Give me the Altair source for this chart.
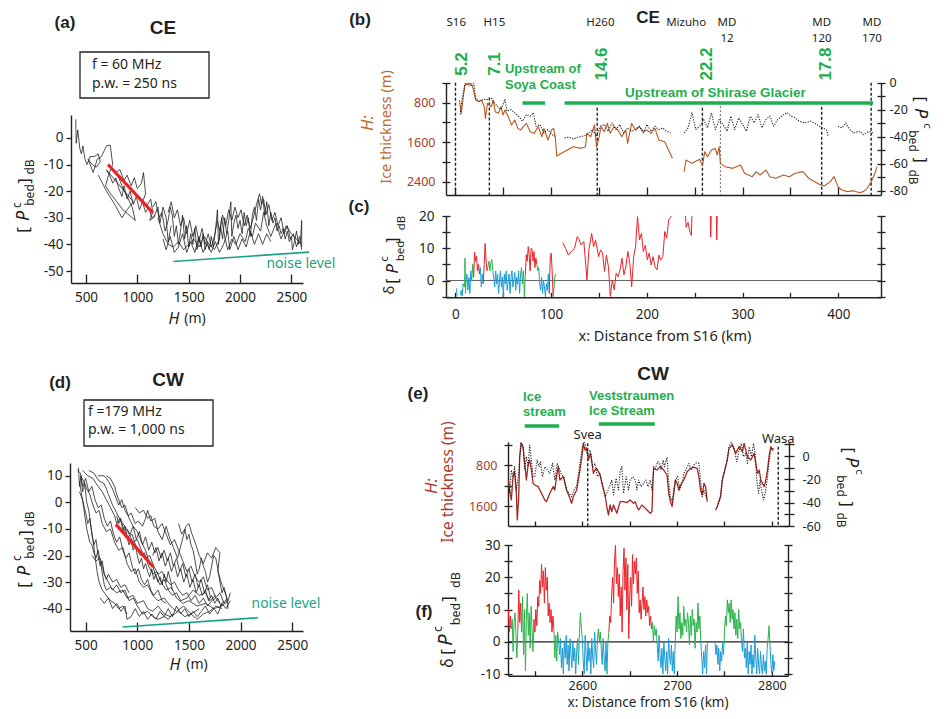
import altair as alt
import pandas as pd

W, HT, M = 928, 703, 8
INK = "#231f20"
FONT = "Noto Sans"
BFONT = "Liberation Sans"
RED = "#ec2227"
GREEN = "#2bb34a"
BLUE = "#1b9cd8"
LGREEN = "#1fae4f"
TEAL = "#17a385"
BROWN = "#b55a24"
BROWN_T = "#c0692f"
BROWN_L = "#a83c30"
DRED = "#a3271f"

# ---------------- (a) CE : P_bed vs H ----------------
A_T1 = [(400, 7), (405, -2), (420, 3), (440, -4), (455, -6), (470, -3), (490, -8), (510, -10),
        (540, -7), (580, -7), (620, -6), (640, -9), (600, -11), (560, -10), (520, -8), (570, -13),
        (610, -8), (650, -7), (700, -3), (736, -2.7), (760, -10), (720, -14), (690, -18), (740, -21),
        (800, -24), (860, -27), (920, -29), (980, -31), (950, -26), (900, -22), (860, -19), (820, -15),
        (780, -13), (830, -12), (870, -16), (900, -14), (940, -18), (970, -15), (1000, -19), (1040, -17),
        (1060, -13), (1080, -21), (1050, -24), (1100, -25), (1130, -23), (1150, -28), (1120, -31),
        (1160, -30), (1200, -26), (1220, -32), (1250, -26), (1280, -30), (1300, -39), (1330, -33)]
A_T2 = [(1150, -26), (1180, -24), (1210, -30), (1240, -28), (1270, -35), (1300, -31), (1320, -26),
        (1340, -29), (1360, -37), (1380, -33), (1400, -40), (1420, -35), (1440, -29), (1460, -38),
        (1480, -33), (1500, -41), (1520, -36), (1540, -40), (1560, -34), (1580, -42), (1600, -38),
        (1620, -41), (1640, -36), (1660, -42), (1680, -39), (1700, -42), (1720, -37), (1740, -41),
        (1760, -35), (1780, -27), (1790, -40), (1810, -33), (1830, -38), (1850, -30), (1870, -36),
        (1890, -31), (1910, -24), (1920, -37), (1940, -32), (1960, -29), (1980, -34), (2000, -31),
        (2020, -36), (2040, -28), (2060, -33), (2080, -30), (2100, -37), (2120, -29), (2140, -26),
        (2160, -31), (2180, -23), (2200, -27), (2220, -22), (2240, -29), (2260, -24), (2280, -33),
        (2300, -28), (2320, -32), (2340, -30), (2360, -35), (2380, -33), (2400, -36), (2420, -34),
        (2440, -38), (2460, -35), (2480, -39), (2500, -37), (2510, -42), (2530, -39), (2550, -35),
        (2570, -40), (2590, -38), (2600, -31), (2600, -41)]
A_T3 = [(1200, -30), (1250, -36), (1300, -40), (1350, -41), (1400, -39), (1450, -42), (1500, -40),
        (1550, -38), (1600, -41), (1650, -37), (1700, -40), (1750, -42), (1800, -38), (1820, -30),
        (1850, -37), (1880, -42), (1920, -38), (1960, -40), (2000, -36), (2050, -39), (2080, -34),
        (2120, -37), (2150, -32), (2200, -35), (2230, -28), (2260, -33), (2300, -37), (2350, -32),
        (2400, -38), (2450, -33), (2500, -36), (2550, -38), (2600, -40)]
A_T4 = [(620, -14), (700, -20), (780, -25), (850, -30), (900, -27), (960, -24), (700, -12), (730, -14),
        (760, -17), (790, -15), (820, -19), (850, -22), (870, -18), (900, -23), (930, -20), (960, -25),
        (990, -22), (1020, -27), (1050, -24), (1080, -28), (1110, -26), (1140, -30), (1170, -29)]
A_T5 = [(1300, -28), (1330, -24), (1360, -30), (1390, -27), (1420, -33), (1450, -30), (1480, -36),
        (1510, -31), (1540, -37), (1570, -33), (1600, -39), (1630, -34), (1660, -40), (1690, -36),
        (1720, -41), (1750, -37), (1780, -31), (1800, -35), (1830, -29), (1860, -33), (1890, -27),
        (1920, -31), (1950, -26), (1980, -30), (2010, -27), (2040, -33), (2070, -29), (2100, -34),
        (2130, -30), (2160, -25), (2190, -21), (2210, -25), (2230, -23), (2250, -29), (2280, -25),
        (2310, -31), (2340, -28), (2370, -33), (2400, -30), (2430, -36), (2460, -33), (2490, -38),
        (2520, -36), (2550, -41), (2580, -37), (2600, -42)]
A_T6 = [(1250, -38), (1280, -42), (1320, -37), (1360, -43), (1400, -41), (1440, -36), (1480, -43),
        (1520, -39), (1560, -43), (1600, -37), (1640, -43), (1680, -40), (1720, -43), (1760, -39),
        (1800, -43), (1840, -40), (1880, -35), (1900, -42), (1940, -37), (1980, -42), (2020, -38),
        (2060, -41), (2100, -35), (2140, -40), (2180, -36), (2220, -40), (2260, -36), (2300, -39)]
A_FIT = [(714, -10.0), (1150, -28.1)]
A_NOISE = [(1351, -46.4), (2672, -42.9)]

# ---------------- (d) CW : P_bed vs H ----------------
D_T1 = [(430, 13), (440, 6), (455, 10), (470, 4), (490, 7), (510, 0), (530, -3), (550, -9), (570, -14),
        (590, -20), (610, -26), (630, -30), (660, -33), (700, -35), (740, -37), (780, -38), (820, -40),
        (860, -39), (900, -42)]
D_T2 = [(450, 10), (480, 8), (510, 5), (540, 3), (570, -1), (600, -4), (630, -3), (660, -8), (700, -11),
        (740, -10), (780, -15), (820, -18), (860, -17), (900, -23), (940, -26), (980, -25), (1020, -30),
        (1060, -32), (1100, -31), (1150, -35), (1200, -37), (1260, -36), (1320, -39), (1380, -41),
        (1450, -39), (1520, -42), (1600, -40)]
D_T3 = [(470, 12), (520, 10), (570, 9), (620, 6), (660, 4), (700, 1), (740, -2), (780, -5), (800, -8),
        (830, -6), (870, -10), (910, -13), (950, -12), (990, -17), (1030, -20), (1070, -19), (1110, -24),
        (1150, -27), (1190, -26), (1230, -30), (1280, -33), (1330, -32), (1380, -36), (1440, -38),
        (1500, -37), (1580, -39), (1660, -38), (1740, -40), (1820, -39), (1880, -37), (1900, -34)]
D_T4 = [(620, 10), (680, 10), (720, 8), (760, 5), (790, 2), (820, -1), (850, 1), (880, -3), (910, -5),
        (940, -4), (980, -8), (1010, -7), (1050, -9), (1080, -6), (1100, -3), (1130, -7), (1170, -6),
        (1200, -11), (1240, -14), (1280, -9), (1310, -13), (1350, -17), (1390, -21), (1430, -15),
        (1470, -9), (1500, -8), (1530, -12), (1560, -15), (1600, -20), (1640, -23), (1680, -19),
        (1720, -21), (1760, -17), (1800, -19), (1780, -26), (1820, -31), (1860, -35), (1880, -40)]
D_T5 = [(440, 8), (480, -2), (510, -10), (540, -15), (560, -16), (580, -19), (600, -21), (620, -18),
        (650, -24), (680, -31), (700, -33), (740, -32), (800, -34), (860, -33), (900, -36), (960, -35),
        (1000, -38), (1060, -37), (1100, -40), (1150, -41), (1200, -39), (1260, -42), (1320, -43),
        (1400, -41), (1460, -43), (1520, -42), (1580, -44), (1640, -42), (1700, -41), (1760, -39),
        (1820, -40)]
D_T6 = [(530, 12), (580, 11), (630, 8), (680, 7), (720, 3), (760, -1), (800, -4), (840, -7), (880, -9),
        (920, -12), (960, -15), (1000, -14), (1040, -18), (1080, -21), (1120, -20), (1160, -24),
        (1200, -27), (1240, -26), (1280, -29), (1320, -31), (1360, -30), (1400, -33), (1440, -35),
        (1480, -34), (1520, -37), (1560, -35), (1600, -38), (1640, -36), (1680, -39), (1720, -37),
        (1760, -36), (1800, -38)]
D_T7 = [(700, 10), (740, 9), (780, 6), (800, 3), (830, 0), (850, -2), (880, -1), (920, -6), (960, -9),
        (1000, -11), (1040, -15), (1080, -18), (1110, -22), (1150, -24), (1180, -28), (1220, -31),
        (1260, -29), (1300, -33), (1340, -35), (1380, -34), (1420, -37), (1480, -36), (1540, -33),
        (1600, -35), (1660, -34), (1700, -37), (1760, -35)]
D_T8 = [(560, -20), (600, -22), (640, -21), (680, -27), (720, -30), (760, -33), (800, -31), (840, -34),
        (880, -33), (920, -37), (960, -36), (1000, -39), (1050, -42), (1100, -41), (1150, -43),
        (1200, -44), (1260, -43), (1300, -44), (1340, -42)]
D_T9 = [(980, -2), (1020, -4), (1060, -3), (1100, -6), (1130, -5), (1160, -9), (1200, -10), (1240, -8),
        (1280, -12), (1320, -16), (1360, -14), (1400, -18), (1440, -22), (1480, -26), (1520, -24),
        (1560, -28), (1600, -30), (1640, -28), (1680, -33), (1720, -32), (1760, -36), (1800, -34),
        (1840, -38), (1870, -36)]
D_T10 = [(1400, -8), (1430, -12), (1460, -10), (1480, -14), (1500, -12), (1520, -16), (1540, -18),
         (1560, -22), (1580, -27), (1600, -25), (1620, -21), (1640, -24), (1660, -26), (1680, -30),
         (1700, -28), (1720, -24), (1740, -20), (1760, -21), (1780, -25), (1800, -30), (1820, -34),
         (1840, -32), (1860, -35), (1880, -38)]
D_T11 = [(420, 12), (450, 11), (470, 6), (500, 9), (530, 4), (560, 6), (590, 1), (620, -2), (650, -1),
         (680, -6), (710, -9), (740, -7), (770, -12), (800, -15), (830, -13), (860, -18), (890, -21),
         (920, -19), (950, -24), (980, -27), (1010, -25), (1040, -29), (1070, -31), (1100, -29),
         (1130, -33), (1160, -35), (1200, -33), (1240, -37), (1280, -38)]
D_T12 = [(800, -5), (820, -8), (840, -6), (860, -11), (880, -9), (900, -13), (920, -16), (940, -14),
         (960, -18), (980, -16), (1000, -20), (1020, -23), (1040, -21), (1060, -25), (1080, -23),
         (1100, -26), (1120, -28), (1140, -25), (1160, -29), (1180, -27), (1200, -30), (1220, -28),
         (1240, -31), (1260, -27), (1280, -30), (1300, -26), (1320, -29), (1340, -33)]
D_T13 = [(1150, -20), (1180, -17), (1210, -22), (1240, -19), (1270, -24), (1300, -21), (1330, -26),
         (1360, -23), (1390, -28), (1420, -25), (1450, -30), (1480, -27), (1510, -32), (1540, -29),
         (1570, -34), (1600, -31), (1630, -35), (1660, -33), (1690, -37), (1720, -35), (1750, -38),
         (1780, -36), (1810, -39), (1840, -37)]
D_T14 = [(900, -10), (930, -12), (960, -9), (990, -14), (1020, -11), (1050, -16), (1080, -13), (1110, -18),
         (1140, -15), (1170, -19), (1200, -17), (1230, -21), (1260, -18), (1290, -22), (1320, -19),
         (1350, -24), (1380, -21), (1410, -26), (1440, -23), (1470, -28), (1500, -25), (1530, -30),
         (1560, -27), (1590, -32), (1620, -29), (1650, -34), (1680, -31), (1710, -36)]
D_T15 = [(640, -36), (680, -38), (720, -36), (760, -40), (800, -38), (840, -41), (880, -39), (900, -44),
         (940, -43), (980, -40), (1020, -43), (1060, -41), (1100, -44), (1140, -42), (1180, -44),
         (1220, -41), (1260, -43), (1300, -40), (1340, -43), (1380, -39), (1420, -42), (1460, -40),
         (1500, -43), (1540, -41), (1580, -43), (1620, -41), (1660, -39), (1700, -42), (1740, -40),
         (1780, -42), (1820, -38), (1860, -40), (1900, -37)]
D_T16 = [(440, 4), (470, 1), (500, -4), (520, -8), (540, -6), (560, -12), (580, -16), (600, -14),
         (620, -20), (640, -24), (660, -22), (680, -27), (700, -29), (720, -27), (760, -30), (800, -29),
         (840, -32), (880, -31), (920, -34)]
D_FIT = [(793, -8.3), (1155, -24.3)]
D_NOISE = [(858, -46.9), (2171, -43.4)]

# ---------------- (b) CE profile: ice thickness H and P_bed vs distance ----------------
B_H1 = [(4.1, 746), (6.1, 1016), (8.1, 679), (10.2, 410), (13.0, 442), (15.9, 405), (17.9, 476),
        (21.2, 746), (24.4, 780), (27.3, 746), (30.1, 881), (31.3, 1117), (33.4, 814), (37.4, 881),
        (39.5, 746), (41.5, 982), (44.8, 1016), (47.6, 881), (49.7, 1050), (51.7, 949), (55.8, 1117),
        (58.6, 1252), (61.9, 1151), (65.1, 1320), (68.0, 1354), (70.8, 1286), (74.1, 1219),
        (78.1, 1387), (82.2, 1421), (86.3, 1286), (90.4, 1489), (92.4, 1320), (96.5, 1556),
        (100.5, 1354), (102.6, 1320), (104.6, 1556), (105.8, 1880), (110.7, 1826), (116.8, 1759),
        (122.9, 1691), (131.1, 1725), (135.9, 1691), (137.2, 1421), (141.2, 1489), (145.3, 1252),
        (147.3, 1691), (149.4, 1556), (152.2, 1286), (155.5, 1387), (158.7, 1219), (161.6, 1421),
        (165.6, 1286), (169.7, 1354), (173.8, 1489), (177.9, 1354), (179.9, 1624), (184.0, 1219),
        (188.0, 1354), (192.1, 1286), (196.2, 1387), (200.2, 1354), (204.3, 1421), (208.4, 1320),
        (212.5, 1556), (218.6, 1590), (222.6, 1759), (226.7, 1927)]
B_H2 = [(238.9, 2197), (240.9, 1961), (247.0, 2029), (255.2, 1948), (258.0, 2076), (260.5, 1792),
        (263.3, 1894), (267.4, 1759), (271.5, 1725), (273.5, 1860), (275.5, 1691), (276.8, 2029),
        (281.6, 2096), (289.8, 2130), (297.9, 2062), (302.0, 2231), (310.1, 2299), (314.2, 2197),
        (318.3, 2265), (324.4, 2164), (328.5, 2299), (334.6, 2332), (342.7, 2265), (348.8, 2299),
        (354.9, 2231), (363.0, 2197), (369.1, 2332), (375.3, 2400), (381.4, 2467), (385.4, 2488),
        (391.5, 2400), (395.6, 2299), (399.7, 2501), (403.7, 2569), (409.8, 2602), (415.9, 2582),
        (422.1, 2623), (426.1, 2602), (430.2, 2535), (434.3, 2400), (438.3, 2231), (440.4, 2096)]
B_P1 = [(4.9, -23.6), (6.9, -12.4), (9.8, -1.2), (13.0, -0.3), (16.3, -2.5), (19.1, -0.3), (21.2, -12.4),
        (25.2, -13.6), (29.3, -12.4), (33.4, -12.4), (37.4, -11.2), (40.7, -14.9), (43.5, -17.4),
        (47.6, -19.9), (51.7, -12.4), (53.7, -21.1), (57.8, -19.9), (61.9, -22.3), (65.9, -24.8),
        (70.0, -28.5), (74.1, -23.6), (78.1, -24.8), (81.4, -22.3), (84.2, -32.3), (88.3, -31.0),
        (92.4, -37.2), (96.5, -34.7), (100.5, -38.5), (104.6, -39.7)]
B_P2 = [(114.0, -40.9), (118.8, -40.4), (122.9, -41.7), (129.0, -40.2), (135.1, -39.2), (139.2, -37.2),
        (143.3, -34.7), (147.3, -39.7), (151.4, -32.3), (155.5, -31.0), (159.5, -36.0), (163.6, -29.8),
        (167.7, -34.7), (171.8, -31.0), (175.8, -37.2), (179.9, -33.5), (184.0, -36.0), (188.0, -34.7),
        (192.1, -32.3), (196.2, -37.2), (200.2, -31.0), (204.3, -36.0), (208.4, -32.3), (212.5, -34.7),
        (216.5, -33.5), (220.6, -36.0), (224.7, -37.2)]
B_P3 = [(238.9, -37.2), (243.0, -33.5), (247.0, -22.3), (251.1, -34.7), (255.2, -32.3), (259.3, -27.3),
        (263.3, -33.5), (267.4, -22.3), (271.5, -34.7), (275.5, -27.3), (279.6, -31.0), (283.7, -36.0),
        (287.7, -24.8), (291.8, -34.7), (295.9, -26.1), (300.0, -31.0), (304.0, -36.0), (308.1, -24.8),
        (312.2, -29.8), (316.2, -23.6), (320.3, -33.5), (324.4, -27.3), (328.5, -24.8), (332.5, -32.3),
        (336.6, -27.3), (342.7, -23.6), (346.8, -22.3), (350.8, -24.8), (354.9, -26.1), (359.0, -28.5),
        (365.1, -29.8), (371.2, -28.5), (377.3, -31.0), (383.4, -33.5), (387.5, -34.7), (389.5, -39.7)]
B_P4 = [(399.7, -32.3), (403.7, -33.5), (407.8, -29.8), (411.9, -34.7), (416.0, -37.2), (422.1, -36.0),
        (426.1, -38.5), (432.2, -36.0), (436.3, -37.2)]
B_STATIONS = ["S16", "H15", "H260", "Mizuho", "MD\n12", "MD\n120", "MD\n170"]
B_STATION_LABEL_KM = [0.8, 40.7, 151.4, 241.0, 283.7, 382.6, 435.1]
B_LINE_KM = [0.0, 35.4, 148.1, 258.0, 276.8, 382.6, 434.3]
B_LINE_TOP_DB = [0.0, -11.0, -18.6, -18.6, -17.4, -17.9, 0.0]
B_NUMBERS = ["5.2", "7.1", "14.6", "22.2", "17.8"]
B_NUMBER_KM = [2.8, 37.4, 149.4, 259.3, 383.4]
B_BARS = [(70.0, 93.6), (114.0, 436.3)]

# ---------------- (c) CE delta P_bed ----------------
C_SEGS = [
    ("blue", [(1.2, -2.4), (1.5, -5.0)]),
    ("blue", [(5.3, -4.5), (6, -3), (7, -4.8), (8, -1), (9.5, -2)]),
    ("green", [(9.5, -2), (10, 6.9), (10.5, -4), (11, 0)]),
    ("blue", [(11, 0), (12, 2), (13, -3), (14, 1), (15, -4), (16, 3), (17, 0)]),
    ("green", [(17, 0), (18, 5), (19, 1)]),
    ("red", [(19, 1), (20, 8.8), (21, 6), (22, 7.5), (23, 3), (24, 5), (25, 2), (26, 4)]),
    ("blue", [(26, 4), (27, -2), (28, 2), (29, -1)]),
    ("red", [(29, -1), (30, 5), (31, 11.5), (32, 6), (33, 3)]),
    ("green", [(33, 3), (35, 6), (36, 3), (37, 5.5), (38, 6.5), (39, 3)]),
    ("blue", [(39, 3), (40, 1), (41, -2), (42, 3), (43, -1), (44, 2), (45, -4), (46, 0), (47, 3), (48, -2),
              (49, 1), (50, -5), (51, 2), (52, -1), (53, 3), (54, -3), (55, 0), (56, 2), (57, -4), (58, 1),
              (59, 3), (60, -2), (61, 0), (62, 2.5), (63, -3), (64, 1), (65, -1), (66, 3), (67, -4), (68, 2)]),
    ("green", [(68, 2), (69, 4), (70, -1), (71, 3), (72, -5), (73, 2)]),
    ("red", [(73, 2), (74, 8), (75, 6), (76, 10.5), (77, 8), (78, 3), (79, 10), (80, 9.5), (81, 6), (82, 9),
             (83, 4), (84, 7), (85, 5)]),
    ("green", [(85, 5), (86, 3), (87, 4), (88, -1)]),
    ("blue", [(88, -1), (89, -3), (90, 1), (91, -4), (92, 0), (93, -2), (94, -5), (95, -1), (96, -3), (97, 2),
              (98, -4)]),
    ("red", [(98, -4), (99, 7), (100, 8.5), (101, 3), (102, -5)]),
    ("blue", [(102, -5), (103, -2)]),
    ("green", [(103, -2), (104, 1.5), (105, 2)]),
    ("red", [(112.2, 11.8), (115.0, 10.0), (117.9, 7.9), (121.1, 9.0), (124.4, 10.0), (127.2, 13.6),
             (129.3, 12.6), (131.3, 11.0), (134.1, 12.1), (137.4, 0.2), (139.4, 9.5), (142.3, 14.6),
             (144.3, 10.5), (146.3, 12.6), (148.0, 10.0), (149.6, 7.4), (151.6, 9.5), (153.7, 8.5),
             (155.7, 2.8), (157.7, 7.9), (159.8, 4.3), (161.8, -4.9), (163.8, 0.2), (165.9, -2.9),
             (167.9, 2.3), (169.9, 1.2), (172.0, 3.3), (174.0, 6.9), (176.0, 1.8), (178.0, 4.3),
             (180.1, 9.0), (182.1, 5.4), (184.1, -1.9), (186.2, 7.4), (188.2, 10.5), (190.2, 19.8),
             (192.3, 12.6), (194.3, 14.6), (196.3, 9.0), (198.4, 11.0), (200.4, 6.4), (202.4, 8.5),
             (204.5, 4.8), (206.5, 7.4), (208.5, 4.3), (210.6, 3.3), (212.6, 7.9), (214.6, 6.4),
             (216.7, 7.4), (218.7, 15.2), (220.7, 13.1), (222.8, 18.8), (225.6, 20.0)]),
    ("red", [(240.4, 20), (241, 16.5), (243, 18), (245, 15), (246.5, 14), (247, 20)]),
    ("red", [(266.2, 20), (266.7, 13.5), (267.2, 20)]),
    ("red", [(272.5, 20), (273, 12.6), (273.5, 20)]),
]

# ---------------- (e) CW profile ----------------
E_H1 = [(2522, 1092), (2523.3, 1288), (2525.1, 1482), (2526.9, 1028), (2528.6, 930), (2530.4, 1352),
        (2531.4, 1872), (2532.9, 1418), (2533.9, 638), (2535.7, 378), (2537.5, 442), (2539.2, 768),
        (2541.0, 1092), (2542.8, 800), (2544.5, 702), (2546.3, 898), (2548.1, 1158), (2549.8, 1190),
        (2553.4, 1222), (2556.9, 1352), (2560.4, 1482), (2562.2, 1515), (2565.7, 1352), (2569.3, 1222),
        (2571.0, 1288), (2572.8, 1028), (2574.6, 832), (2576.3, 1092), (2579.9, 1028), (2583.4, 1288),
        (2586.9, 1450), (2588.7, 1548), (2590.5, 1418), (2594.0, 1288), (2597.5, 898), (2600.0, 572),
        (2601.1, 378), (2602.8, 508), (2604.6, 475), (2606.4, 702), (2608.8, 572), (2611.7, 962),
        (2613.4, 898), (2615.2, 865), (2618.7, 995), (2621.6, 1222), (2624.0, 1385), (2625.8, 1612),
        (2627.6, 1775), (2629.3, 1580), (2631.1, 1710), (2632.9, 1580), (2636.4, 1742), (2639.9, 1515),
        (2643.5, 1515), (2647.0, 1534), (2650.5, 1482), (2654.1, 1548), (2655.8, 1515), (2657.6, 1612),
        (2659.4, 1678), (2662.9, 1580), (2664.7, 1612), (2668.2, 1678), (2671.7, 1742), (2673.5, 1710),
        (2674.6, 1092), (2675.3, 865), (2678.8, 898), (2682.3, 832), (2685.9, 898), (2689.4, 995),
        (2691.2, 1352), (2692.9, 1515), (2694.7, 1612), (2696.5, 1352), (2698.2, 1092), (2700.0, 1158),
        (2701.8, 1288), (2703.5, 1190), (2707.1, 1092), (2710.6, 930), (2714.1, 865), (2717.7, 846),
        (2721.2, 865), (2723.0, 1028), (2724.7, 1288), (2726.5, 1385), (2728.3, 1158), (2730.0, 1222),
        (2731.8, 1515)]
E_H2 = [(2740.6, 1678), (2742.4, 1612), (2745.9, 1418), (2747.7, 1092), (2749.5, 962), (2753.0, 702),
        (2754.8, 475), (2758.3, 410), (2761.8, 572), (2765.4, 442), (2768.9, 540), (2770.7, 378),
        (2774.2, 638), (2777.7, 702), (2781.3, 572), (2784.8, 962), (2786.6, 898), (2788.3, 1092),
        (2790.1, 1158), (2791.9, 1222), (2793.6, 1092), (2795.4, 898), (2797.2, 605), (2798.9, 442),
        (2800.7, 508), (2801.8, 475)]
E_P1 = [(2522, -23.4), (2523.3, -32.0), (2525.1, -12.0), (2526.9, -17.7), (2528.6, -9.1), (2530.4, -29.1),
        (2532.9, -14.9), (2535.0, 11.8), (2537.5, 8.0), (2539.2, -12.0), (2541.0, -0.6), (2542.8, -9.1),
        (2544.5, 9.4), (2546.3, -3.4), (2548.1, -17.7), (2549.8, -17.7), (2552.3, -3.4), (2554.4, -9.1),
        (2555.8, -4.9), (2558.0, -17.7), (2560.4, -9.1), (2562.9, -12.0), (2565.7, -14.9), (2568.6, -6.3),
        (2571.0, -20.6), (2573.5, -6.3), (2575.6, -10.6), (2578.1, -16.3), (2580.6, -17.7), (2583.4, -29.1),
        (2586.2, -32.0), (2588.7, -34.9), (2591.2, -29.1), (2594.0, -26.3), (2597.5, -6.3), (2600.0, 8.0),
        (2601.8, 11.8), (2603.5, 9.4), (2605.7, -0.6), (2608.1, 5.1), (2611.0, -9.1), (2613.4, -6.3),
        (2615.9, -17.7), (2618.7, -14.9), (2621.6, -26.3), (2624.0, -34.9), (2626.5, -30.6), (2628.6, -26.3),
        (2631.1, -20.6), (2632.9, -33.4), (2635.7, -19.1), (2638.2, -29.1), (2639.9, -13.4), (2641.7, -9.1),
        (2643.5, -32.0), (2646.3, -17.7), (2648.8, -29.1), (2650.5, -20.6), (2653.4, -17.7), (2655.8, -20.6),
        (2657.6, -29.1), (2659.4, -20.6), (2661.8, -26.3), (2664.7, -23.4), (2667.1, -20.6), (2669.3, -26.3),
        (2671.7, -20.6), (2673.5, -29.1), (2675.3, -9.1), (2677.0, -10.6), (2679.5, -4.9), (2681.6, -6.3),
        (2683.0, -12.0), (2685.2, -3.4), (2686.6, -9.1), (2689.4, -1.1), (2691.2, -23.4), (2692.9, -34.9),
        (2694.7, -39.1), (2696.5, -29.1), (2698.2, -20.6), (2700.7, -17.7), (2702.8, -29.1), (2705.3, -23.4),
        (2707.1, -14.9), (2709.9, -10.6), (2712.4, -6.3), (2714.8, -12.0), (2717.7, -7.7), (2720.5, -5.7),
        (2723.0, -6.3), (2724.7, -20.6), (2726.5, -34.9), (2728.3, -29.1), (2730.0, -33.4), (2731.8, -37.7)]
E_P2 = [(2742.4, -43.4), (2745.9, -33.4), (2747.7, -20.6), (2750.2, -12.0), (2752.3, -4.9), (2754.8, 8.0),
        (2757.2, 11.8), (2760.1, 6.6), (2762.9, -4.9), (2765.4, 5.1), (2767.8, 10.9), (2770.0, -0.6),
        (2772.4, 2.3), (2774.2, -6.3), (2776.0, 8.0), (2778.4, -0.6), (2780.6, 10.9), (2782.3, 2.3),
        (2784.1, -20.6), (2785.9, -32.0), (2787.6, -20.6), (2789.0, -29.1), (2791.2, -37.7), (2793.6, -29.1),
        (2795.4, -17.7), (2797.2, -3.4), (2798.9, 5.1), (2800.7, 8.0)]
E_STATIONS = ["Svea", "Wasa"]
E_STATION_KM = [2605.7, 2806.7]
E_LINE_TOP_DB = [10.9, 8.0]
E_BARS = [(2539.2, 2575.6), (2617.4, 2676.4)]

# ---------------- (f) CW delta P_bed ----------------
F_SEGS = [
    ("red", [(2522, 10), (2523, 3), (2524, 8), (2525, 4)]),
    ("green", [(2525, 4), (2526, 7), (2527, -3), (2528, 6), (2529, 9), (2530, 2), (2531, -5), (2532, 4)]),
    ("red", [(2532, 4), (2533, 16), (2534, 6), (2535, 12), (2536, 3)]),
    ("green", [(2536, 3), (2537, 14), (2538, -4), (2539, 10), (2540, -9), (2541, 8), (2542, 15), (2543, 2),
               (2544, 9), (2545, -2), (2546, 11), (2547, 4), (2548, -3), (2549, 7)]),
    ("red", [(2549, 7), (2550, 3), (2551, 10), (2552, 5), (2553, 14), (2554, 11), (2555, 19), (2556, 15),
             (2557, 24), (2558, 17), (2559, 22), (2560, 12), (2561, 23), (2562, 16), (2563, 20), (2564, 8),
             (2565, 12), (2566, 6), (2567, 10), (2568, 3), (2569, 8), (2570, 4)]),
    ("green", [(2570, 4), (2571, -5), (2572, 2), (2573, -6), (2574, 3), (2575, 0)]),
    ("blue", [(2575, 0), (2576, -4), (2577, 1), (2578, -8), (2579, -2), (2580, -10), (2581, 0), (2582, -5),
              (2583, 2), (2584, -7), (2585, -1), (2586, -9), (2587, 1), (2588, -4), (2589, -8), (2590, 0),
              (2591, -6), (2592, -2), (2593, -10), (2594, -3), (2595, 1), (2596, -7)]),
    ("green", [(2596, -7), (2597, 3), (2598, 9), (2599, 4), (2600, 1)]),
    ("blue", [(2600, 1), (2601, -6), (2602, -10), (2603, 2), (2604, -4), (2605, -9), (2606, 0), (2607, -6),
              (2608, -2), (2609, -10), (2610, 1), (2611, -5), (2612, -8), (2613, 3), (2614, -3), (2615, -7),
              (2616, 1)]),
    ("green", [(2616, 1), (2617, 4), (2618, 0), (2619, 3), (2620, -2)]),
    ("blue", [(2620, -2), (2621, -7), (2622, 1), (2623, -5), (2624, -9), (2625, 0), (2626, -10)]),
    ("green", [(2626, -10), (2627, 0), (2628, 3)]),
    ("red", [(2628, 3), (2629, 8), (2630, 6), (2631, 15), (2632, 20), (2633, 12), (2634, 25), (2635, 30),
             (2636, 18), (2637, 23), (2638, 14), (2639, 21), (2640, 8), (2641, 17), (2642, 3), (2643, 22),
             (2644, 29), (2645, 16), (2646, 26), (2647, 10), (2648, 24), (2649, 1), (2650, 14), (2651, 20),
             (2652, 11), (2653, 27), (2654, 18), (2655, 25), (2656, 21), (2657, 26), (2658, 15), (2659, 22),
             (2660, 9), (2661, 13), (2662, 7), (2663, 12), (2664, 17), (2665, 10), (2666, 14), (2667, 8),
             (2668, 13), (2669, 9), (2670, 11), (2671, 5), (2672, 8), (2673, 4), (2674, 6)]),
    ("green", [(2674, 6), (2675, 0), (2676, 5), (2677, 2), (2678, 4), (2679, -1)]),
    ("blue", [(2679, -1), (2680, -6), (2681, 2), (2682, -4), (2683, -8), (2684, -2), (2685, -10), (2686, 0),
              (2687, -5), (2688, -9), (2689, -3), (2690, -10), (2691, 1), (2692, -4), (2693, -7), (2694, -1),
              (2695, -9), (2696, -3), (2697, -10), (2698, 0)]),
    ("green", [(2698, 0), (2699, 8), (2700, 3), (2701, 14), (2702, 4), (2703, 9), (2704, 1), (2705, 6),
               (2706, 2), (2707, 11), (2708, 5), (2709, 7), (2710, 3), (2711, 9), (2712, 6), (2713, -1),
               (2714, 8), (2715, 2), (2716, 10), (2717, 5), (2718, 7), (2719, -2), (2720, 6), (2721, 3),
               (2722, 12), (2723, 4), (2724, 8), (2725, 0)]),
    ("blue", [(2725, 0), (2726, -5), (2727, -10), (2728, -3), (2729, -8), (2730, -1), (2731, -10), (2732, 0)]),
    ("blue", [(2740, 0), (2741, -4), (2742, -1), (2743, -7), (2744, -2), (2745, -9), (2746, -3), (2747, -6),
              (2748, 0), (2749, -4)]),
    ("green", [(2749, -4), (2750, 3), (2751, 8), (2752, 5), (2753, 13), (2754, 9), (2755, 12), (2756, 6),
               (2757, 13), (2758, 7), (2759, 10), (2760, 4), (2761, 9), (2762, 2), (2763, 7), (2764, 1),
               (2765, 10), (2766, 4), (2767, 6), (2768, 0)]),
    ("blue", [(2768, 0), (2769, -3), (2770, 4), (2771, -5), (2772, -2), (2773, -8), (2774, 0), (2775, -10),
              (2776, -3), (2777, -7), (2778, -1), (2779, -10), (2780, -4), (2781, -8), (2782, 2), (2783, -5),
              (2784, -10), (2785, -2), (2786, -7), (2787, -10), (2788, -3), (2789, -8), (2790, -10),
              (2791, -4), (2792, -9), (2793, -6), (2794, -10), (2795, -2)]),
    ("green", [(2795, -2), (2796, 1), (2797, 5), (2798, -1)]),
    ("blue", [(2798, -1), (2799, -7), (2800, -10), (2801, -4), (2802, -9), (2803, -6)]),
]

# ---------------- scales (page pixel positions of each panel) ----------------
def px(v):
    return v - M


def sc(domain, r0, r1):
    return alt.Scale(domain=domain, range=[px(r0), px(r1)], nice=False, zero=False)


DOM = {
    "ax": [354, 2613], "ay": [-54.5, 8.6],
    "dx": [348, 2605], "dy": [-48.4, 14.8],
    "bx": [-9.9, 444.6], "bh": [395, 2670], "bp": [-83.2, 0],
    "cy": [-5.2, 20],
    "ex": [2521.6, 2817], "eh": [345, 1990], "ep": [-60, 12.3],
    "fy": [-10.5, 30],
}
SC = {
    "ax": sc(DOM["ax"], 71, 303), "ay": sc(DOM["ay"], 283, 115),
    "dx": sc(DOM["dx"], 70, 303), "dy": sc(DOM["dy"], 631, 463),
    "bx": sc(DOM["bx"], 446, 881), "bh": sc(DOM["bh"], 82.7, 195), "bp": sc(DOM["bp"], 195, 82.7),
    "cy": sc(DOM["cy"], 297.3, 216),
    "ex": sc(DOM["ex"], 508, 788), "eh": sc(DOM["eh"], 441.7, 526), "ep": sc(DOM["ep"], 526, 441.7),
    "fy": sc(DOM["fy"], 675.7, 545),
}

layers = []


def axis_off(orient, p):
    c = p - M
    if orient == "left":
        return -c
    if orient == "right":
        return c - W
    if orient == "bottom":
        return c - HT
    return -c


def axis_layers(ch, key, orient, pos, lab_values=None, tick_values=None, tick_in=0, tick_out=0,
                pad=4, color=INK, size=13, domain=True):
    df = pd.DataFrame({"v": DOM[key]})

    def mk(axis):
        enc = alt.X("v:Q", scale=SC[key], axis=axis) if ch == "x" else alt.Y("v:Q", scale=SC[key], axis=axis)
        return alt.Chart(df).mark_point(opacity=0).encode(**{ch: enc})

    out = [mk(alt.Axis(orient=orient, offset=axis_off(orient, pos), values=lab_values or [],
                       labels=bool(lab_values), domain=domain, ticks=False, tickSize=0, labelPadding=pad,
                       labelColor=color, labelFontSize=size, labelFont=FONT, labelExpr="'' + datum.value",
                       title=None, grid=False, domainColor=INK, domainWidth=1.4, labelFlush=False,
                       labelOverlap=False, labelBound=False))]
    if tick_values:
        L = tick_in + tick_out
        b = pos + tick_in if orient in ("left", "top") else pos - tick_in
        out.append(mk(alt.Axis(orient=orient, offset=axis_off(orient, b), values=tick_values, labels=False,
                               domain=False, ticks=True, tickSize=L, tickColor=INK, tickWidth=1.3,
                               title=None, grid=False)))
    return out


def pts_df(traces):
    rows = []
    for k, tr in enumerate(traces):
        for i, (x, y) in enumerate(tr):
            rows.append({"x": x, "y": y, "s": k, "i": i})
    return pd.DataFrame(rows)


def line(traces, xk, yk, color, width=1.0, dash=None):
    kw = dict(color=color, strokeWidth=width, strokeJoin="round")
    if dash:
        kw["strokeDash"] = dash
    return alt.Chart(pts_df(traces)).mark_line(**kw).encode(
        x=alt.X("x:Q", scale=SC[xk], axis=None), y=alt.Y("y:Q", scale=SC[yk], axis=None),
        detail="s:N", order="i:Q")


def seg_line(segs, xk, yk, width=1.0):
    rows = []
    for k, (col, pts) in enumerate(segs):
        for i, (x, y) in enumerate(pts):
            rows.append({"x": x, "y": y, "c": col, "s": k, "i": i})
    return alt.Chart(pd.DataFrame(rows)).mark_line(strokeWidth=width, strokeJoin="round").encode(
        x=alt.X("x:Q", scale=SC[xk], axis=None), y=alt.Y("y:Q", scale=SC[yk], axis=None),
        color=alt.Color("c:N", scale=alt.Scale(domain=["red", "green", "blue"], range=[RED, GREEN, BLUE]),
                        legend=None),
        detail="s:N", order="i:Q")


def T(items, size, color=INK, weight="normal", style="normal", font=FONT, angle=0, align="center"):
    df = pd.DataFrame(items, columns=["t", "x", "y"])
    df["x"] = df["x"] - M
    df["y"] = df["y"] - M
    return alt.Chart(df).mark_text(fontSize=size, color=color, fontWeight=weight, fontStyle=style, font=font,
                                   angle=angle, align=align, baseline="middle").encode(
        x=alt.X("x:Q", scale=None), y=alt.Y("y:Q", scale=None), text="t:N")


def TX(items, xk, size, color=INK, weight="normal", font=FONT, angle=0, align="center", baseline="middle",
       line_height=13):
    # x in data units of the panel scale, y in page pixels
    df = pd.DataFrame(items, columns=["t", "x", "y"])
    df["y"] = df["y"] - M
    return alt.Chart(df).mark_text(fontSize=size, color=color, fontWeight=weight, font=font, angle=angle,
                                   align=align, baseline=baseline, lineBreak="\n",
                                   lineHeight=line_height).encode(
        x=alt.X("x:Q", scale=SC[xk], axis=None), y=alt.Y("y:Q", scale=None), text="t:N")


def TD(items, xk, yk, size, color=INK, align="left"):
    df = pd.DataFrame(items, columns=["t", "x", "y"])
    return alt.Chart(df).mark_text(fontSize=size, color=color, font=FONT, align=align, baseline="middle").encode(
        x=alt.X("x:Q", scale=SC[xk], axis=None), y=alt.Y("y:Q", scale=SC[yk], axis=None), text="t:N")


def vlines(xs, tops, bottom, xk, yk, dash, width=1.3, color=INK):
    df = pd.DataFrame({"x": xs, "y": tops, "y2": [bottom] * len(xs)})
    return alt.Chart(df).mark_rule(strokeDash=dash, strokeWidth=width, color=color).encode(
        x=alt.X("x:Q", scale=SC[xk], axis=None), y=alt.Y("y:Q", scale=SC[yk], axis=None), y2="y2:Q")


def hbars(bars, xk, ypage, width=3.5, color=LGREEN):
    df = pd.DataFrame(bars, columns=["x", "x2"])
    return alt.Chart(df).mark_rule(strokeWidth=width, color=color).encode(
        x=alt.X("x:Q", scale=SC[xk], axis=None), x2="x2:Q", y=alt.value(px(ypage)))


def hzero(xk, yk, color, width=1.0):
    df = pd.DataFrame({"x": [DOM[xk][0]], "x2": [DOM[xk][1]], "y": [0]})
    return alt.Chart(df).mark_rule(color=color, strokeWidth=width).encode(
        x=alt.X("x:Q", scale=SC[xk], axis=None), x2="x2:Q", y=alt.Y("y:Q", scale=SC[yk], axis=None))


def box(x0, y0, x1, y1):
    df = pd.DataFrame({"x": [px(x0)], "x2": [px(x1)], "y": [px(y0)], "y2": [px(y1)]})
    return alt.Chart(df).mark_rect(fillOpacity=0, stroke=INK, strokeWidth=1.3).encode(
        x=alt.X("x:Q", scale=None), x2="x2:Q", y=alt.Y("y:Q", scale=None), y2="y2:Q")


# ================= panel (a) =================
layers.append(line([A_T1, A_T2, A_T3, A_T4, A_T5, A_T6], "ax", "ay", INK, 0.8))
layers.append(line([A_FIT], "ax", "ay", RED, 3.2))
layers.append(line([A_NOISE], "ax", "ay", TEAL, 1.6))
layers.append(TD([("noise level", 2257, -47.2)], "ax", "ay", 14, TEAL))
layers += axis_layers("x", "ax", "bottom", 283, [500, 1000, 1500, 2000, 2500], [500, 1000, 1500, 2000, 2500],
                      tick_in=9, pad=7, size=13.5)
layers += axis_layers("y", "ay", "left", 71, [0, -10, -20, -30, -40, -50], [0, -10, -20, -30, -40, -50],
                      tick_out=5, pad=8, size=13.5)
layers.append(box(80, 52, 209, 98))
layers.append(T([("f = 60 MHz", 92, 65), ("p.w. = 250 ns", 92, 84)], 14, align="left"))
layers.append(T([("(a)", 65, 23)], 17, weight="bold", font=BFONT))
layers.append(T([("CE", 163, 28)], 19, weight="bold", font=BFONT))
layers.append(T([("H", 174, 319)], 16, style="italic"))
layers.append(T([("(m)", 195, 319)], 14))
layers.append(T([("[", 24, 230), ("]", 25, 181)], 17, angle=270))
layers.append(T([("P", 24, 216)], 18, style="italic", angle=270))
layers.append(T([("c", 17, 205)], 12, angle=270))
layers.append(T([("bed", 30, 195), ("dB", 30, 167)], 12, angle=270))

# ================= panel (d) =================
layers.append(line([D_T1, D_T2, D_T3, D_T4, D_T5, D_T6, D_T7, D_T8, D_T9, D_T10, D_T11, D_T12, D_T13,
                    D_T14, D_T15, D_T16], "dx", "dy", INK, 0.8))
layers.append(line([D_FIT], "dx", "dy", RED, 3.2))
layers.append(line([D_NOISE], "dx", "dy", TEAL, 1.6))
layers.append(TD([("noise level", 2106, -38.1)], "dx", "dy", 14, TEAL))
layers += axis_layers("x", "dx", "bottom", 631, [500, 1000, 1500, 2000, 2500], [500, 1000, 1500, 2000, 2500],
                      tick_in=9, pad=7, size=13.5)
layers += axis_layers("y", "dy", "left", 70, [10, 0, -10, -20, -30, -40], [10, 0, -10, -20, -30, -40],
                      tick_out=5, pad=8, size=13.5)
layers.append(box(84, 400, 213, 446))
layers.append(T([("f =179 MHz", 88, 412), ("p.w. = 1,000 ns", 88, 430)], 14, align="left"))
layers.append(T([("(d)", 60, 383)], 17, weight="bold", font=BFONT))
layers.append(T([("CW", 168, 380)], 19, weight="bold", font=BFONT))
layers.append(T([("H", 175, 665)], 16, style="italic"))
layers.append(T([("(m)", 197, 665)], 14))
layers.append(T([("[", 25, 585), ("]", 26, 533)], 17, angle=270))
layers.append(T([("P", 25, 571)], 18, style="italic", angle=270))
layers.append(T([("c", 17, 558)], 12, angle=270))
layers.append(T([("bed", 30, 548), ("dB", 30, 519)], 12, angle=270))

# ================= panel (b) =================
layers.append(vlines(B_LINE_KM[:4] + B_LINE_KM[5:], B_LINE_TOP_DB[:4] + B_LINE_TOP_DB[5:], DOM["bp"][0],
                     "bx", "bp", [3, 2], 1.4))
layers.append(vlines([B_LINE_KM[4]], [B_LINE_TOP_DB[4]], DOM["bp"][0], "bx", "bp", [2, 2], 0.9, "#555555"))
layers.append(line([B_H1, B_H2], "bx", "bh", BROWN, 1.1))
layers.append(line([B_P1, B_P2, B_P3, B_P4], "bx", "bp", INK, 1.1, [1.2, 1.4]))
layers.append(hbars(B_BARS, "bx", 103))
layers += axis_layers("x", "bx", "bottom", 195, None, list(range(0, 401, 50)), tick_in=8)
layers += axis_layers("y", "bh", "left", 446, [800, 1600, 2400], [400, 800, 1200, 1600, 2000, 2400],
                      tick_in=4, tick_out=4, pad=11, color=BROWN_L, size=12.5)
layers += axis_layers("y", "bp", "right", 881, [0, -20, -40, -60, -80], list(range(-80, 1, 10)),
                      tick_in=4, tick_out=4, pad=8, size=12.5)
layers.append(TX([(s, k, 17) for s, k in zip(B_STATIONS, B_STATION_LABEL_KM)], "bx", 11.5, baseline="top",
                 line_height=16))
layers.append(TX([(s, k + 3.5, 64) for s, k in zip(B_NUMBERS, B_NUMBER_KM)], "bx", 17, LGREEN, "bold", BFONT,
                 angle=270))
layers.append(TX([("Upstream of", 51.7, 69), ("Soya Coast", 51.7, 85)], "bx", 13, LGREEN, "bold", BFONT,
                 align="left"))
layers.append(TX([("Upstream of Shirase Glacier", 271.5, 93)], "bx", 13.5, LGREEN, "bold", BFONT))
layers.append(T([("(b)", 360, 20)], 17, weight="bold", font=BFONT))
layers.append(T([("CE", 648, 18)], 17, weight="bold", font=BFONT))
layers.append(T([("H:", 368, 123)], 17, color=BROWN_T, style="italic", angle=270))
layers.append(T([("Ice thickness (m)", 387, 127)], 14.5, color=BROWN_T, angle=270))
layers.append(T([("[", 920, 99), ("]", 920, 160)], 16, angle=90))
layers.append(T([("P", 920, 113)], 18, style="italic", angle=90))
layers.append(T([("c", 927, 126)], 11.5, angle=90))
layers.append(T([("bed", 913, 141), ("dB", 913, 177)], 12, angle=90))

# ================= panel (c) =================
layers.append(hzero("bx", "cy", "#666666", 1.2))
layers.append(seg_line(C_SEGS, "bx", "cy", 1.0))
layers += axis_layers("x", "bx", "bottom", 297.3, [0, 100, 200, 300, 400], list(range(0, 401, 50)),
                      tick_in=5, pad=10, size=13.5)
layers += axis_layers("y", "cy", "left", 446, [0, 10, 20], [-5, 0, 5, 10, 15, 20],
                      tick_in=4, tick_out=4, pad=12, size=13.5)
layers += axis_layers("y", "cy", "right", 881, None, [-5, 0, 5, 10, 15, 20], tick_in=4, tick_out=4)
layers.append(T([("(c)", 359, 207)], 17, weight="bold", font=BFONT))
layers.append(T([("x: Distance from S16 (km)", 665, 337)], 14.5))
layers.append(T([("δ", 389, 290)], 15, angle=270))
layers.append(T([("[", 393, 281), ("]", 393, 240)], 16, angle=270))
layers.append(T([("P", 393, 269)], 17, style="italic", angle=270))
layers.append(T([("c", 385, 259)], 11.5, angle=270))
layers.append(T([("bed", 401, 251), ("dB", 402, 223)], 11.5, angle=270))

# ================= panel (e) =================
layers.append(vlines(E_STATION_KM, E_LINE_TOP_DB, DOM["ep"][0], "ex", "ep", [3, 2], 1.4))
layers.append(line([E_H1, E_H2], "ex", "eh", DRED, 1.3))
layers.append(line([E_P1, E_P2], "ex", "ep", INK, 1.1, [1.2, 1.4]))
layers.append(hbars(E_BARS[:1], "ex", 426))
layers.append(hbars(E_BARS[1:], "ex", 424))
layers += axis_layers("x", "ex", "bottom", 526, None, list(range(2550, 2801, 50)), tick_in=5)
layers += axis_layers("y", "eh", "left", 508, [800, 1600], [400, 800, 1200, 1600],
                      tick_in=4, tick_out=4, pad=11, color=BROWN_L, size=12.5)
layers += axis_layers("y", "ep", "right", 789, [0, -20, -40, -60], list(range(-60, 11, 10)),
                      tick_in=5, tick_out=5, pad=13, size=12.5)
layers.append(TX([(s, k, y) for s, k, y in zip(E_STATIONS, E_STATION_KM, [435, 439])], "ex", 13))
layers.append(TX([("Ice", 2537.5, 397), ("stream", 2537.5, 412), ("Veststraumen", 2607.1, 396),
                  ("Ice Stream", 2607.1, 411)], "ex", 13, LGREEN, "bold", BFONT, align="left"))
layers.append(T([("(e)", 418, 394)], 17, weight="bold", font=BFONT))
layers.append(T([("CW", 653, 374)], 19, weight="bold", font=BFONT))
layers.append(T([("H:", 432, 486)], 17, color=BROWN_L, style="italic", angle=270))
layers.append(T([("Ice thickness (m)", 448, 482)], 15.5, color=BROWN_L, angle=270))
layers.append(T([("[", 848, 450), ("]", 846, 504)], 16, angle=90))
layers.append(T([("P", 851, 462)], 18, style="italic", angle=90))
layers.append(T([("c", 859, 472)], 11.5, angle=90))
layers.append(T([("bed", 841, 486), ("dB", 841, 520)], 12, angle=90))

# ================= panel (f) =================
layers.append(hzero("ex", "fy", INK, 1.2))
layers.append(seg_line(F_SEGS, "ex", "fy", 1.0))
layers += axis_layers("x", "ex", "bottom", 675.7, [2600, 2700, 2800], list(range(2550, 2801, 50)),
                      tick_in=5, pad=4, size=12.5)
layers += axis_layers("y", "fy", "left", 508, [-10, 0, 10, 20, 30], list(range(-10, 31, 5)),
                      tick_in=4, tick_out=4, pad=8, size=13.5)
layers += axis_layers("y", "fy", "right", 788, None, list(range(-10, 31, 5)), tick_in=4, tick_out=4)
layers.append(T([("(f)", 424, 612)], 17, weight="bold", font=BFONT))
layers.append(T([("x: Distance from S16 (km)", 648, 703)], 13.5))
layers.append(T([("δ", 448, 663)], 16, angle=270))
layers.append(T([("[", 448, 652), ("]", 449, 599)], 17, angle=270))
layers.append(T([("P", 446, 640)], 20, style="italic", angle=270))
layers.append(T([("c", 438, 629)], 12.5, angle=270))
layers.append(T([("bed", 456, 614), ("dB", 456, 580)], 12.5, angle=270))

chart = alt.layer(*layers).resolve_scale(
    x="independent", y="independent", color="independent"
).properties(
    width=W, height=HT, padding=0, autosize=alt.AutoSizeParams(type="none")
).configure_view(stroke=None).configure_axis(grid=False)

chart.save("out.html", embed_options={"renderer": "svg", "actions": False})
